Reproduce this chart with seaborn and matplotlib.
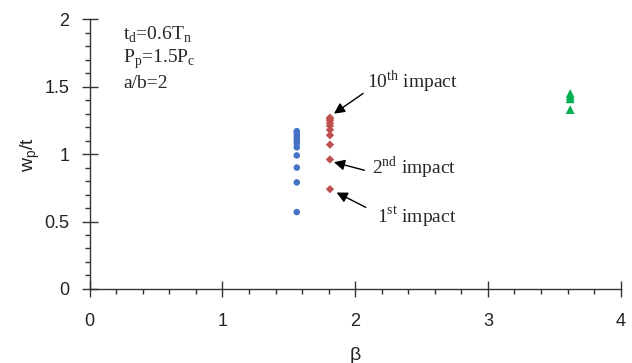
import numpy as np
import pandas as pd
import matplotlib
matplotlib.use("Agg")
import matplotlib.pyplot as plt
import seaborn as sns
from matplotlib.ticker import MultipleLocator

# Peak deflection ratio w_p/t against beta for repeated impacts
beta_blue = 1.56
wp_blue = [0.57, 0.79, 0.90, 0.99, 1.05, 1.08, 1.10, 1.12, 1.14, 1.16, 1.17]
beta_red = 1.81
wp_red = [0.74, 0.96, 1.07, 1.14, 1.18, 1.21, 1.23, 1.25, 1.26, 1.27]
beta_green = 3.62
wp_green = [1.33, 1.41, 1.43, 1.45]

series_names = ["blue", "red", "green"]
series_colors = ["#4472C4", "#C0504D", "#00B050"]
series_markers = ["o", "D", "^"]

df = pd.concat([
    pd.DataFrame({"beta": beta_blue, "wp": wp_blue, "set": "blue"}),
    pd.DataFrame({"beta": beta_red, "wp": wp_red, "set": "red"}),
    pd.DataFrame({"beta": beta_green, "wp": wp_green, "set": "green"}),
], ignore_index=True)

sns.set_style("ticks")
plt.rcParams["font.family"] = ["Liberation Sans", "DejaVu Sans"]

fig = plt.figure(figsize=(6.32, 3.63), dpi=100)
ax = fig.add_axes([0.142, 0.204, 0.840, 0.743])

palette = dict(zip(series_names, series_colors))
markers = dict(zip(series_names, series_markers))
sizes = {"blue": 22, "red": 18, "green": 40}
for name in series_names:
    sub = df[df["set"] == name]
    sns.scatterplot(data=sub, x="beta", y="wp", color=palette[name],
                    marker=markers[name], s=sizes[name], edgecolor="none",
                    linewidth=0, legend=False, ax=ax, zorder=3)

ax.set_xlim(0, 4)
ax.set_ylim(0, 2)
ax.xaxis.set_minor_locator(MultipleLocator(0.2))
ax.yaxis.set_minor_locator(MultipleLocator(0.1))
ax.set_xticks([0, 1, 2, 3, 4])
ax.set_xticklabels(["0", "1", "2", "3", "4"])
ax.set_yticks([0, 0.5, 1, 1.5, 2])
ax.set_yticklabels(["0", "0.5", "1", "1.5", "2"])
for s in ["top", "right"]:
    ax.spines[s].set_visible(False)
for s in ["left", "bottom"]:
    ax.spines[s].set_color("#333333")
    ax.spines[s].set_linewidth(1.0)

ax.tick_params(which="major", direction="inout", length=11, width=1.0,
               color="#333333", labelsize=13, labelcolor="#222222")
ax.tick_params(axis="y", which="major", pad=9)
ax.tick_params(axis="x", which="major", pad=12)
ax.tick_params(which="minor", direction="out", length=3.6, width=1.0,
               color="#333333")

ax.set_xlabel("β", fontsize=14, color="#222222", labelpad=12)
ax.set_ylabel(r"w$_\mathregular{p}$/t", fontsize=14, color="#222222", labelpad=2)

serif = ["Liberation Serif", "DejaVu Serif"]
ax.text(0.25, 1.885, r"t$_\mathregular{d}$=0.6T$_\mathregular{n}$", family=serif,
        fontsize=14, ha="left", va="center")
ax.text(0.25, 1.705, r"P$_\mathregular{p}$=1.5P$_\mathregular{c}$", family=serif,
        fontsize=14, ha="left", va="center")
ax.text(0.25, 1.52, "a/b=2", family=serif, fontsize=14, ha="left", va="center")

ax.text(2.09, 1.535, r"10$^\mathregular{th}$ impact", family=serif, fontsize=14,
        ha="left", va="center")
ax.text(2.13, 0.90, r"2$^\mathregular{nd}$ impact", family=serif, fontsize=14,
        ha="left", va="center")
ax.text(2.165, 0.54, r"1$^\mathregular{st}$ impact", family=serif, fontsize=14,
        ha="left", va="center")

arrow = dict(arrowstyle="-|>", color="black", lw=1.0, mutation_scale=16,
             shrinkA=0, shrinkB=0)
ax.annotate("", xy=(1.84, 1.30), xytext=(2.06, 1.45), arrowprops=arrow)
ax.annotate("", xy=(1.84, 0.94), xytext=(2.07, 0.88), arrowprops=arrow)
ax.annotate("", xy=(1.86, 0.715), xytext=(2.08, 0.605), arrowprops=arrow)

fig.savefig("out.png", dpi=100)
